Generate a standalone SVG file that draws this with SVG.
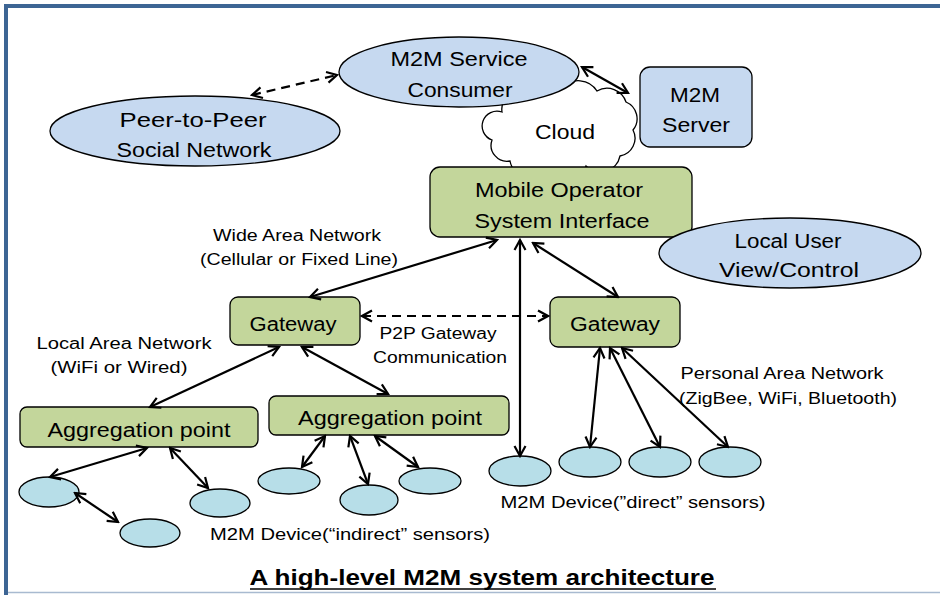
<svg xmlns="http://www.w3.org/2000/svg" width="940" height="595" viewBox="0 0 940 595">
<style>
text{font-family:"Liberation Sans","Noto Sans CJK JP",Arial,sans-serif;fill:#000}
.n{font-size:20px;text-anchor:middle}
.l{font-size:16px;text-anchor:middle}
.blue{fill:#c6d9f0;stroke:#000;stroke-width:1.3}
.green{fill:#c3d69b;stroke:#000;stroke-width:1.3}
.dev{fill:#b7dee8;stroke:#000;stroke-width:1.3}
.c{stroke:#000;stroke-width:2.2;fill:none;marker-start:url(#ah);marker-end:url(#ah)}
.d{stroke-dasharray:9,6}
</style>
<defs>
<marker id="ah" viewBox="0 0 14 14" markerWidth="14" markerHeight="14" refX="12" refY="7" orient="auto-start-reverse" markerUnits="userSpaceOnUse">
<path d="M2,1.5 L12,7 L2,12.5" fill="none" stroke="#000" stroke-width="2.2"/>
</marker>
</defs>
<rect width="940" height="595" fill="#fff"/>
<g id="frame">
<rect x="4" y="4" width="936" height="4" fill="#3d6594"/>
<rect x="4" y="4" width="4" height="591" fill="#3d6594"/>
<line x1="8" y1="592.5" x2="940" y2="592.5" stroke="#a8bad0" stroke-width="1.5"/>
</g>
<g id="cloud">
<path d="M502,112 A18,18 0 0 1 527,93 A22,22 0 0 1 562,88 A22,22 0 0 1 597,91 A20,20 0 0 1 626,102 A18,18 0 0 1 633,130 A18,18 0 0 1 620,156 A20,20 0 0 1 586,166 A22,22 0 0 1 546,169 A20,20 0 0 1 510,161 A16,16 0 0 1 492,140 A14,14 0 0 1 502,112 Z" fill="#fff" stroke="#000" stroke-width="1.3"/>
<text class="n" x="565" y="139" textLength="60" lengthAdjust="spacingAndGlyphs">Cloud</text>
</g>
<g id="consumer">
<ellipse class="blue" cx="459" cy="72" rx="120" ry="35"/>
<text class="n" x="459" y="66" textLength="137" lengthAdjust="spacingAndGlyphs">M2M Service</text>
<text class="n" x="460" y="97" textLength="105" lengthAdjust="spacingAndGlyphs">Consumer</text>
</g>
<g id="server">
<rect class="blue" x="640" y="67" width="112" height="80" rx="10"/>
<text class="n" x="695" y="102" textLength="50" lengthAdjust="spacingAndGlyphs">M2M</text>
<text class="n" x="696" y="132" textLength="68" lengthAdjust="spacingAndGlyphs">Server</text>
</g>
<g id="p2p">
<ellipse class="blue" cx="195" cy="131" rx="145" ry="35"/>
<text class="n" x="193" y="127" textLength="147" lengthAdjust="spacingAndGlyphs">Peer-to-Peer</text>
<text class="n" x="194" y="157" textLength="155" lengthAdjust="spacingAndGlyphs">Social Network</text>
</g>
<g id="mobileop">
<rect class="green" x="430" y="167" width="262" height="70" rx="10"/>
<text class="n" x="559" y="197" textLength="168" lengthAdjust="spacingAndGlyphs">Mobile Operator</text>
<text class="n" x="562" y="228" textLength="175" lengthAdjust="spacingAndGlyphs">System Interface</text>
</g>
<g id="localuser">
<ellipse class="blue" cx="790" cy="253" rx="131" ry="35"/>
<text class="n" x="788" y="248" textLength="107" lengthAdjust="spacingAndGlyphs">Local User</text>
<text class="n" x="789" y="277" textLength="140" lengthAdjust="spacingAndGlyphs">View/Control</text>
</g>
<g id="gatewayL">
<rect class="green" x="230" y="297" width="130" height="48" rx="8"/>
<text class="n" x="293" y="331" textLength="87" lengthAdjust="spacingAndGlyphs">Gateway</text>
</g>
<g id="gatewayR">
<rect class="green" x="550" y="297" width="130" height="50" rx="8"/>
<text class="n" x="615" y="331" textLength="90" lengthAdjust="spacingAndGlyphs">Gateway</text>
</g>
<g id="aggL">
<rect class="green" x="20" y="407" width="238" height="40" rx="7"/>
<text class="n" x="139" y="437" textLength="183" lengthAdjust="spacingAndGlyphs">Aggregation point</text>
</g>
<g id="aggR">
<rect class="green" x="269" y="396" width="240" height="39" rx="7"/>
<text class="n" x="390" y="425" textLength="184" lengthAdjust="spacingAndGlyphs">Aggregation point</text>
</g>
<g id="devices">
<ellipse id="dev1" class="dev" cx="49" cy="492" rx="30" ry="15"/>
<ellipse id="dev2" class="dev" cx="150" cy="533" rx="30" ry="14"/>
<ellipse id="dev3" class="dev" cx="220" cy="503" rx="30" ry="14"/>
<ellipse id="dev4" class="dev" cx="289" cy="481" rx="31" ry="13"/>
<ellipse id="dev5" class="dev" cx="369" cy="500" rx="29" ry="15"/>
<ellipse id="dev6" class="dev" cx="430" cy="481" rx="31" ry="13"/>
<ellipse id="dev7" class="dev" cx="520" cy="471" rx="31" ry="15"/>
<ellipse id="dev8" class="dev" cx="590" cy="462" rx="31" ry="15"/>
<ellipse id="dev9" class="dev" cx="660" cy="462" rx="31" ry="15"/>
<ellipse id="dev10" class="dev" cx="730" cy="462" rx="31" ry="15"/>
</g>
<g id="connectors">
<line class="c d" x1="252" y1="95" x2="337" y2="75"/>
<line class="c" x1="582" y1="67" x2="628" y2="93"/>
<line class="c" x1="497" y1="240" x2="310" y2="297"/>
<line class="c" x1="520" y1="240" x2="520" y2="456"/>
<line class="c" x1="533" y1="243" x2="618" y2="297"/>
<line class="c d" x1="362" y1="316" x2="548" y2="316"/>
<line class="c" x1="279" y1="347" x2="150" y2="407"/>
<line class="c" x1="302" y1="347" x2="388" y2="394"/>
<line class="c" x1="600" y1="348" x2="590" y2="447"/>
<line class="c" x1="610" y1="348" x2="660" y2="447"/>
<line class="c" x1="622" y1="348" x2="728" y2="447"/>
<line class="c" x1="147" y1="448" x2="50" y2="477"/>
<line class="c" x1="170" y1="448" x2="208" y2="488"/>
<line class="c" x1="75" y1="493" x2="118" y2="522"/>
<line class="c" x1="325" y1="436" x2="302" y2="467"/>
<line class="c" x1="350" y1="436" x2="368" y2="484"/>
<line class="c" x1="375" y1="436" x2="418" y2="467"/>
</g>
<g id="labels">
<text class="l" x="297" y="241" textLength="168" lengthAdjust="spacingAndGlyphs">Wide Area Network</text>
<text class="l" x="299" y="265" textLength="198" lengthAdjust="spacingAndGlyphs">(Cellular or Fixed Line)</text>
<text class="l" x="124" y="349" textLength="175" lengthAdjust="spacingAndGlyphs">Local Area Network</text>
<text class="l" x="119" y="373" textLength="137" lengthAdjust="spacingAndGlyphs">(WiFi or Wired)</text>
<text class="l" x="438" y="339" textLength="117" lengthAdjust="spacingAndGlyphs">P2P Gateway</text>
<text class="l" x="440" y="363" textLength="134" lengthAdjust="spacingAndGlyphs">Communication</text>
<text class="l" x="782" y="379" textLength="203" lengthAdjust="spacingAndGlyphs">Personal Area Network</text>
<text class="l" x="788" y="404" textLength="218" lengthAdjust="spacingAndGlyphs">(ZigBee, WiFi, Bluetooth)</text>
<text class="l" x="350" y="540" textLength="280" lengthAdjust="spacingAndGlyphs">M2M Device(“indirect” sensors)</text>
<text class="l" x="633" y="508" textLength="265" lengthAdjust="spacingAndGlyphs">M2M Device(”direct” sensors)</text>
</g>
<g id="title">
<text x="482" y="585" style="font-size:22px;font-weight:bold;text-anchor:middle" textLength="465" lengthAdjust="spacingAndGlyphs">A high-level M2M system architecture</text>
<line x1="250" y1="589" x2="716" y2="589" stroke="#000" stroke-width="1.6"/>
</g>
</svg>
